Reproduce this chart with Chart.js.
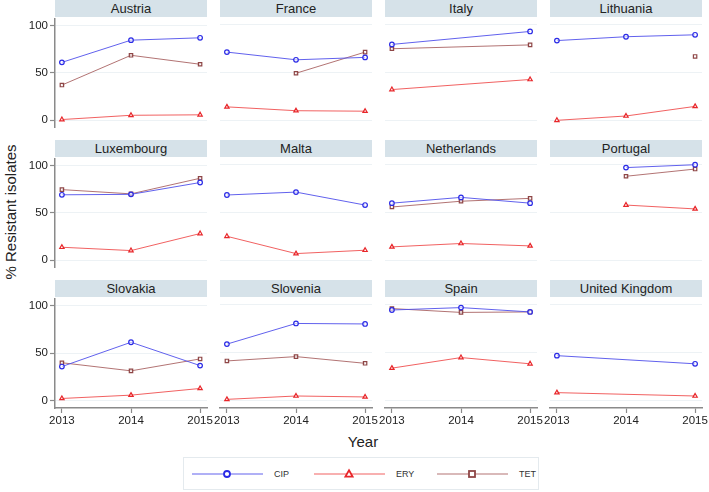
<!DOCTYPE html>
<html>
<head>
<meta charset="utf-8">
<script src="https://cdn.jsdelivr.net/npm/chart.js@4"></script>
<style>
  body { margin: 0; background: #fff; font-family: 'Liberation Sans', Arial, Helvetica, sans-serif; }
  #wrap { position: relative; width: 709px; height: 492px; overflow: hidden; }
  .strip { position: absolute; background: #d6e2e9; color: #222; font-size: 13px; text-align: center; line-height: 18px; }
  canvas { position: absolute; }
  .ytitle { position: absolute; left: 10px; top: 212px; transform: translate(-50%, -50%) rotate(-90deg); font-size: 15px; color: #222; white-space: nowrap; }
  .xtitle { position: absolute; left: 363px; top: 441px; transform: translate(-50%, -50%); font-size: 15px; color: #222; }
  #legend { position: absolute; left: 183px; top: 457px; width: 356px; height: 33px; border: 1px solid #e4eaee; box-sizing: border-box; }
  #legend svg { position: absolute; top: 10px; }
  #legend span { position: absolute; top: 10px; font-size: 9px; color: #333; line-height: 12px; }
</style>
</head>
<body>
<div id="wrap">
  <div class="ytitle">% Resistant isolates</div>
  <div class="xtitle">Year</div>
  <div id="legend"></div>
</div>
<script>
const countries = ['Austria', 'France', 'Italy', 'Lithuania', 'Luxembourg', 'Malta',
  'Netherlands', 'Portugal', 'Slovakia', 'Slovenia', 'Spain', 'United Kingdom'];
const years = [2013, 2014, 2015];
const yTicks = [0, 50, 100];

// one row per country: 2013, 2014, 2015 (null = no data)
const cip = [
  [61, 84.5, 87], [71.5, 63.5, 66], [79.5, null, 93], [83.5, 87.5, 89.5],
  [69, 69.5, 82], [68.5, 71.5, 58], [60, 66, 60], [null, 97, 100],
  [36, 61.5, 37], [59, 80.5, 80], [94.5, 97, 92.5], [47, null, 38.5]
];
const ery = [
  [0.5, 5, 5.5], [14.5, 10.5, 10], [32.5, null, 43], [0.5, 5, 15],
  [13.5, 10, 28], [25.5, 7.5, 11], [14.5, 18, 15.5], [null, 58, 54],
  [2.5, 6, 13], [1.5, 5, 4], [34, 45, 38.5], [8.5, null, 5]
];
const tet = [
  [37, 68.5, 59], [null, 49.5, 71.5], [75, null, 79], [null, null, 67],
  [74.5, 70, 86.5], [null, null, null], [56, 62, 65], [null, 88, 95.5],
  [40, 31.5, 44], [41.5, 46, 39], [96, 92, 92.5], [null, null, null]
];

const series = [
  { label: 'CIP', data: cip, line: 'rgba(80,80,235,0.9)', mark: '#2a2ae6', style: 'circle', r: 2.3 },
  { label: 'ERY', data: ery, line: 'rgba(240,80,80,0.9)', mark: '#e8262a', style: 'triangle', r: 2.5 },
  { label: 'TET', data: tet, line: 'rgba(170,100,100,0.9)', mark: '#8e4646', style: 'rect', r: 2.4 }
];

const FONT = "'Liberation Sans', Arial, Helvetica, sans-serif";
const colLeft = [55, 220, 385, 550];
const rowTop = [18, 158, 298];
const plotW = 152, plotH = 110;
const wrap = document.getElementById('wrap');

countries.forEach((name, i) => {
  const row = Math.floor(i / 4), col = i % 4;

  const strip = document.createElement('div');
  strip.className = 'strip';
  strip.style.left = colLeft[col] + 'px';
  strip.style.top = (rowTop[row] - 18) + 'px';
  strip.style.width = plotW + 'px';
  strip.style.height = '17px';
  strip.textContent = name;
  wrap.appendChild(strip);

  const padL = col === 0 ? 55 : 16;
  const padB = row === 2 ? 26 : 8;
  const cv = document.createElement('canvas');
  cv.width = padL + plotW + 16;
  cv.height = 8 + plotH + padB;
  cv.style.left = (colLeft[col] - padL) + 'px';
  cv.style.top = (rowTop[row] - 8) + 'px';
  wrap.appendChild(cv);

  const datasets = series.map(s => ({
    label: s.label,
    data: years.map((y, k) => ({ x: y, y: s.data[i][k] })),
    borderColor: s.line,
    borderWidth: 1,
    pointStyle: s.style,
    pointRadius: s.r,
    pointBorderColor: s.mark,
    pointBackgroundColor: 'rgba(255,255,255,0.6)',
    pointBorderWidth: 1.2,
    spanGaps: true,
    tension: 0,
    clip: false
  }));

  new Chart(cv, {
    type: 'line',
    data: { datasets },
    options: {
      responsive: false,
      animation: false,
      layout: { padding: { left: col === 0 ? 0 : 16, right: 16, top: 8, bottom: row === 2 ? 0 : 8 } },
      plugins: { legend: { display: false }, tooltip: { enabled: false } },
      scales: {
        x: {
          type: 'linear', min: 2012.9, max: 2015.1,
          afterBuildTicks: s => { s.ticks = years.map(v => ({ value: v })); },
          afterFit: s => { s.height = row === 2 ? 26 : 0; },
          grid: { display: row === 2, drawOnChartArea: false, tickLength: 5, tickColor: '#8a8a8a', tickWidth: 1.2 },
          border: { display: row === 2, color: '#8a8a8a', width: 1.5 },
          ticks: { display: row === 2, autoSkip: false, maxRotation: 0, padding: 1, color: '#222',
            font: { family: FONT, size: 11.5 }, callback: v => String(v) }
        },
        y: {
          min: -7.5, max: 107,
          afterBuildTicks: s => { s.ticks = yTicks.map(v => ({ value: v })); },
          afterFit: s => { s.width = col === 0 ? 55 : 0; },
          grid: { color: '#edf2f5', drawTicks: col === 0, tickLength: 5, tickColor: '#8a8a8a', tickWidth: 1.2 },
          border: { display: col === 0, color: '#8a8a8a', width: 1.5 },
          ticks: { display: col === 0, padding: 2, color: '#222', font: { family: FONT, size: 11.5 } }
        }
      }
    }
  });
});

// legend: line sample with marker, then label
const legend = document.getElementById('legend');
const legX = [8, 130, 253];
series.forEach((s, k) => {
  let marker;
  if (s.style === 'circle') marker = `<circle cx="35" cy="6" r="3" fill="#fff" stroke="${s.mark}" stroke-width="1.8"/>`;
  else if (s.style === 'triangle') marker = `<polygon points="35,2.3 38.6,8.6 31.4,8.6" fill="#fff" stroke="${s.mark}" stroke-width="1.8"/>`;
  else marker = `<rect x="32" y="3" width="6" height="6" fill="#fff" stroke="${s.mark}" stroke-width="1.8"/>`;
  legend.insertAdjacentHTML('beforeend',
    `<svg width="71" height="12" style="left:${legX[k]}px"><line x1="0" y1="6" x2="71" y2="6" stroke="${s.line}" stroke-width="1.2"/>${marker}</svg>` +
    `<span style="left:${legX[k] + 82}px">${s.label}</span>`);
});
</script>
</body>
</html>
